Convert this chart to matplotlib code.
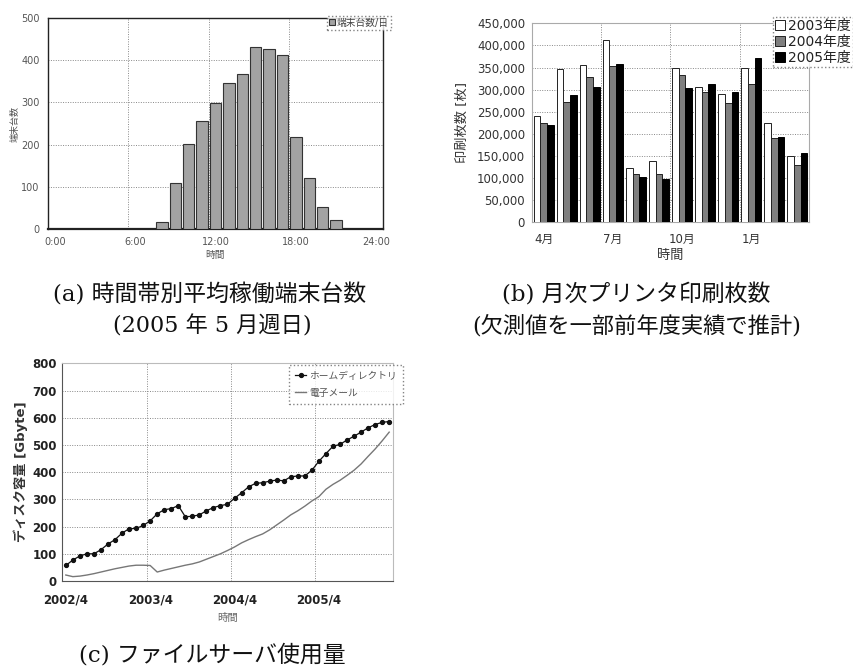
import numpy as np
import matplotlib
matplotlib.use('Agg')
import matplotlib.pyplot as plt
from matplotlib.ticker import FuncFormatter

plt.rcParams['font.family'] = ['DejaVu Sans', 'Noto Sans CJK JP']

# (a) 時間帯別平均稼働端末台数
horas = [8, 9, 10, 11, 12, 13, 14, 15, 16, 17, 18, 19, 20, 21]
terminales = [16, 110, 202, 255, 299, 345, 368, 431, 427, 412, 218, 122, 52, 22]
etiquetas_hora = ['0:00', '6:00', '12:00', '18:00', '24:00']

# (b) 月次プリンタ印刷枚数
meses = ['4月', '5月', '6月', '7月', '8月', '9月', '10月', '11月', '12月', '1月', '2月', '3月']
imp_2003 = [241000, 346000, 355000, 412000, 123000, 139000, 349000, 306000, 291000, 349000, 225000, 149000]
imp_2004 = [224000, 271000, 329000, 354000, 109000, 110000, 333000, 294000, 269000, 312000, 190000, 130000]
imp_2005 = [219000, 287000, 306000, 357000, 102000, 99000, 304000, 312000, 295000, 372000, 192000, 156000]

# (c) ファイルサーバ使用量
periodo = [f'{2002 + (m + 3) // 12}/{(m + 3) % 12 + 1}' for m in range(47)]
home = [57, 77, 92, 100, 100, 115, 136, 152, 176, 192, 193, 204, 221, 247, 262, 266,
        277, 236, 238, 243, 258, 270, 277, 282, 304, 324, 346, 359, 361, 367, 371, 368,
        383, 386, 386, 407, 440, 468, 495, 502, 518, 532, 547, 563, 575, 583, 586]
email = [22, 16, 18, 22, 27, 33, 39, 45, 50, 55, 58, 58, 57, 33, 40, 46,
         52, 58, 63, 70, 80, 90, 100, 112, 125, 140, 152, 163, 173, 188, 206, 224,
         243, 258, 275, 294, 310, 337, 355, 370, 388, 407, 430, 458, 485, 515, 547]

W, H = 854, 671
fig = plt.figure(figsize=(W / 100, H / 100), dpi=100)


def caja(izq, der, arriba, abajo):
    return [izq / W, 1 - abajo / H, (der - izq) / W, (abajo - arriba) / H]


grid_kw = dict(color='#888888', linestyle=(0, (1, 1.5)), linewidth=0.7)

# ---------------- (a)
ax1 = fig.add_axes(caja(48, 383, 18, 229))
x1 = np.array(horas) + 0.5
ax1.bar(x1, terminales, width=0.85, color='#a3a3a3', edgecolor='#333333',
        linewidth=0.8, label='端末台数/日', zorder=3)
ax1.set_xlim(0, 25)
ax1.set_ylim(0, 500)
ax1.set_yticks(range(0, 501, 100))
ax1.set_xticks([6, 12, 18])
ax1.set_xticklabels([])
ax1.set_xticks([0.5, 6.5, 12.5, 18.5, 24.5], minor=True)
ax1.set_xticklabels(etiquetas_hora, minor=True)
ax1.tick_params(which='both', length=0, labelsize=7, labelcolor='#555555', pad=6)
ax1.grid(True, axis='both', which='major', **grid_kw)
for s in ax1.spines.values():
    s.set_color('#222222')
    s.set_linewidth(1.0)
ax1.spines['bottom'].set_linewidth(1.6)
ax1.set_xlabel('時間', fontsize=7, color='#555555', labelpad=2)
ax1.set_ylabel('端末台数', fontsize=6.5, color='#555555', labelpad=1)
leg1 = ax1.legend(loc='upper right', bbox_to_anchor=(1.024, 1.01), borderaxespad=0,
                  fontsize=7, handlelength=0.6, handleheight=0.6, handletextpad=0.2,
                  borderpad=0.2, fancybox=False, labelcolor='#444444')
leg1.get_frame().set_linestyle(':')
leg1.get_frame().set_edgecolor('#666666')

# ---------------- (b)
ax2 = fig.add_axes(caja(532, 809, 23.3, 222.3))
x2 = np.arange(len(meses))
bw = 0.29
ax2.bar(x2 - bw, imp_2003, bw, color='white', edgecolor='#222222', linewidth=0.7,
        label='2003年度', zorder=3)
ax2.bar(x2, imp_2004, bw, color='#7f7f7f', edgecolor='#222222', linewidth=0.7,
        label='2004年度', zorder=3)
ax2.bar(x2 + bw, imp_2005, bw, color='#000000', edgecolor='#000000', linewidth=0.7,
        label='2005年度', zorder=3)
ax2.set_xlim(-0.5, 11.5)
ax2.set_ylim(0, 450000)
ax2.set_yticks(range(0, 450001, 50000))
ax2.yaxis.set_major_formatter(FuncFormatter(lambda v, p: f'{int(v):,}'))
ax2.set_xticks([2.5, 5.5, 8.5])
ax2.set_xticklabels([])
ax2.set_xticks([0, 3, 6, 9], minor=True)
ax2.set_xticklabels([meses[i] for i in [0, 3, 6, 9]], minor=True)
ax2.tick_params(which='both', length=0, labelsize=8.5, labelcolor='#333333', pad=5)
ax2.tick_params(axis='x', which='minor', pad=8)
ax2.grid(True, axis='both', which='major', **grid_kw)
for s in ax2.spines.values():
    s.set_color('#aaaaaa')
    s.set_linewidth(0.8)
ax2.set_xlabel('時間', fontsize=9.5, color='#333333', labelpad=2)
ax2.set_ylabel('印刷枚数 [枚]', fontsize=9.5, color='#333333', labelpad=6)
leg2 = ax2.legend(loc='upper right', bbox_to_anchor=(1.159, 1.032), borderaxespad=0,
                  fontsize=10, handlelength=0.7, handleheight=0.7, handletextpad=0.25,
                  labelspacing=0.15, borderpad=0.15, fancybox=False,
                  labelcolor='#222222')
leg2.get_frame().set_linestyle(':')
leg2.get_frame().set_edgecolor('#666666')

# ---------------- (c)
ax3 = fig.add_axes(caja(62.3, 392.7, 363.3, 581))
x3 = np.arange(len(periodo))
ax3.plot(x3, home, color='#111111', linewidth=0.9, marker='o', markersize=2.8,
         label='ホームディレクトリ', zorder=3)
ax3.plot(x3, email, color='#777777', linewidth=1.0, label='電子メール', zorder=3)
ax3.set_xlim(-0.5, len(periodo) - 0.5)
ax3.set_ylim(0, 800)
ax3.set_yticks(range(0, 801, 100))
ax3.set_xticks([11.5, 23.5, 35.5])
ax3.set_xticklabels([])
ax3.set_xticks([0, 12, 24, 36], minor=True)
ax3.set_xticklabels([periodo[i] for i in [0, 12, 24, 36]], minor=True)
ax3.tick_params(which='both', length=0, labelsize=8.5, labelcolor='#222222', pad=4)
ax3.tick_params(axis='x', which='minor', pad=9)
for lab in ax3.get_xticklabels(minor=True) + ax3.get_yticklabels():
    lab.set_fontweight('bold')
ax3.grid(True, axis='both', which='major', **grid_kw)
for s in ax3.spines.values():
    s.set_color('#bbbbbb')
    s.set_linewidth(0.8)
ax3.spines['left'].set_color('#555555')
ax3.spines['bottom'].set_color('#555555')
ax3.set_xlabel('時間', fontsize=7.5, color='#666666', labelpad=5)
ax3.set_ylabel('ディスク容量 [Gbyte]', fontsize=9.5, fontweight='bold',
               color='#333333', labelpad=3)
leg3 = ax3.legend(loc='upper right', bbox_to_anchor=(1.031, 0.992), borderaxespad=0,
                  fontsize=7, handlelength=1.2, handletextpad=0.3,
                  labelspacing=0.7, borderpad=0.6, fancybox=False,
                  labelcolor='#555555')
leg3.get_frame().set_linestyle(':')
leg3.get_frame().set_edgecolor('#666666')

# captions
cap = dict(ha='center', va='center', family=['DejaVu Serif', 'Noto Sans CJK JP'],
           color='#111111')
fig.text(210 / W, 1 - 295 / H, '(a) 時間帯別平均稼働端末台数', fontsize=16.5, **cap)
fig.text(212 / W, 1 - 326 / H, '(2005 年 5 月週日)', fontsize=16, **cap)
fig.text(636 / W, 1 - 295 / H, '(b) 月次プリンタ印刷枚数', fontsize=16.5, **cap)
fig.text(637 / W, 1 - 326 / H, '(欠測値を一部前年度実績で推計)', fontsize=16, **cap)
fig.text(212 / W, 1 - 655 / H, '(c) ファイルサーバ使用量', fontsize=16.5, **cap)

fig.savefig('out.png', dpi=100)
